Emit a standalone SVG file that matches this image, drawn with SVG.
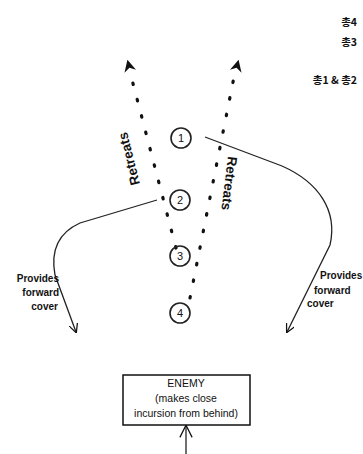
<svg xmlns="http://www.w3.org/2000/svg" width="363" height="454" viewBox="0 0 363 454">
<style>
.t{font-family:"Liberation Sans",Arial,sans-serif;fill:#111;font-weight:bold}
.r{font-family:"Liberation Sans",Arial,sans-serif;fill:#111}
.k{font-family:"Noto Sans CJK KR","Liberation Sans",sans-serif;fill:#111;font-weight:bold;font-size:10.5px}
.dot{fill:none;stroke:#111;stroke-width:3.2;stroke-linecap:round;stroke-dasharray:1.5 15.4}
.ln{fill:none;stroke:#222;stroke-width:1.3}
.hid{fill:none;stroke:none}
.c{fill:none;stroke:#222;stroke-width:1.6}
.n{font-family:"Liberation Sans",Arial,sans-serif;font-size:11px;fill:#111;text-anchor:middle}
</style>
<defs>
<marker id="open" viewBox="0 0 10 10" refX="9" refY="5" markerWidth="9" markerHeight="9" markerUnits="userSpaceOnUse" orient="auto">
<path d="M0,0 L10,5 L0,10" fill="none" stroke="#111" stroke-width="1.4"/>
</marker>
<marker id="up" viewBox="0 0 16 16" refX="14" refY="8" markerWidth="14" markerHeight="14" markerUnits="userSpaceOnUse" orient="auto">
<path d="M1,1 L15,8 L1,15" fill="none" stroke="#111" stroke-width="1.4"/>
</marker>
<marker id="tip" viewBox="0 0 10 10" refX="8" refY="5" markerWidth="12" markerHeight="12" markerUnits="userSpaceOnUse" orient="auto">
<path d="M0,0 L10,5 L0,10 L3,5 Z" fill="#111"/>
</marker>
</defs>
<g id="legend">
<text class="k" x="357" y="26" text-anchor="end">총4</text>
<text class="k" x="357" y="46" text-anchor="end">총3</text>
<text class="k" x="357" y="84" text-anchor="end">총1 &amp; 총2</text>
</g>
<g id="connectors">
<path class="dot" d="M176,248 L130,72"/>
<path class="hid" d="M130,70 L128,62" marker-end="url(#tip)"/>
<path class="dot" d="M190,298 L235,72"/>
<path class="hid" d="M236,70 L238,62" marker-end="url(#tip)"/>
<path class="ln" d="M205,137 L282,166 C318,182 338,210 330,245 L287,332" marker-end="url(#open)"/>
<path class="ln" d="M157,200 L80,223 C60,232 50,248 55,275 L76,332" marker-end="url(#open)"/>
<path class="ln" d="M186,454 L186,426" marker-end="url(#up)"/>
</g>
<g id="n1"><circle class="c" cx="181" cy="138" r="10"/><text class="n" x="181" y="142">1</text></g>
<g id="n2"><circle class="c" cx="180" cy="200" r="10"/><text class="n" x="180" y="204">2</text></g>
<g id="n3"><circle class="c" cx="180" cy="256" r="10"/><text class="n" x="180" y="260">3</text></g>
<g id="n4"><circle class="c" cx="180" cy="313" r="10"/><text class="n" x="180" y="317">4</text></g>
<g id="labels">
<text class="t" font-size="13.5" transform="translate(140,184) rotate(-104)">Retreats</text>
<text class="t" font-size="13.5" transform="translate(228,156) rotate(97)">Retreats</text>
<text class="t" font-size="10" text-anchor="end"><tspan x="59" y="282">Provides</tspan><tspan x="59" y="296">forward</tspan><tspan x="58" y="310">cover</tspan></text>
<text class="t" font-size="10"><tspan x="320" y="279">Provides</tspan><tspan x="314" y="294">forward</tspan><tspan x="307" y="307">cover</tspan></text>
</g>
<g id="enemy">
<rect x="123" y="375" width="127" height="50" fill="#fff" stroke="#111" stroke-width="1.5"/>
<text class="r" font-size="10.5" text-anchor="middle"><tspan x="186" y="387">ENEMY</tspan><tspan x="186" y="402">(makes close</tspan><tspan x="186" y="417">incursion from behind)</tspan></text>
</g>
</svg>
